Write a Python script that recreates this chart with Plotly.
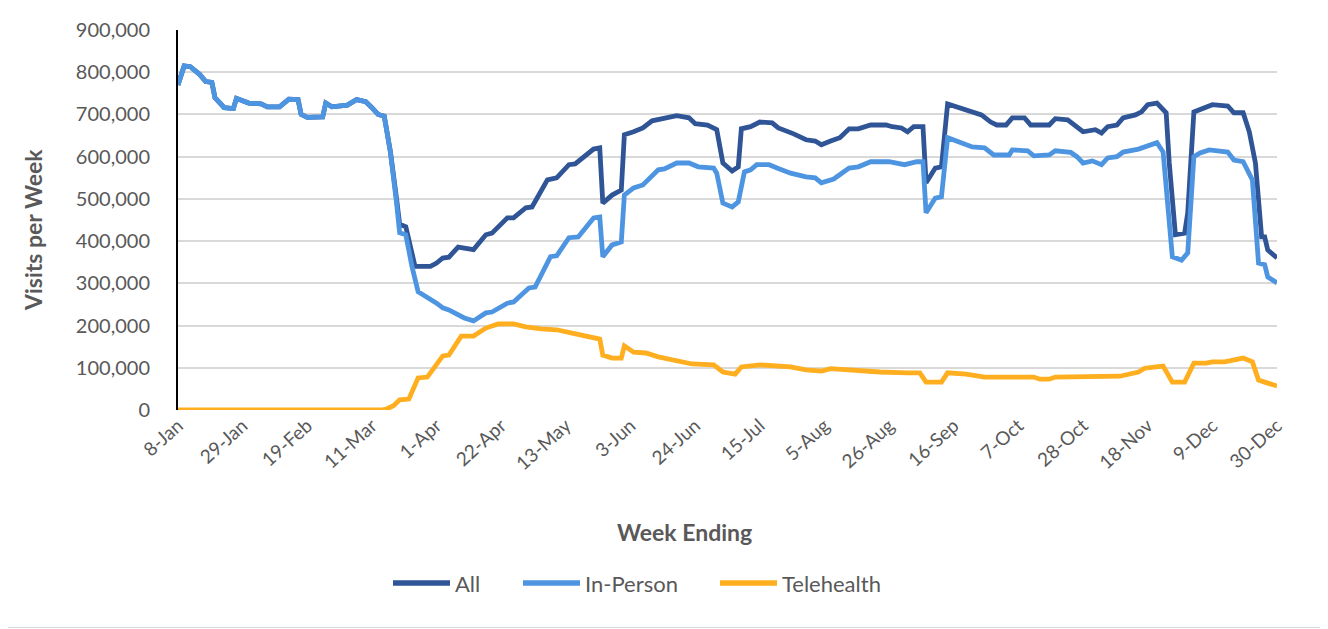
import pandas as pd
import plotly.graph_objects as go

# ---------------- data (day offset from 8-Jan-2020, visits per week) ----------------
all_days = [0, 2, 4, 7, 9, 11, 12, 15, 18, 19, 23, 27, 29, 33, 36, 39, 40, 42, 47, 48, 50, 55, 58, 61, 63, 65, 67,
            69, 71, 72, 74, 77, 82, 84, 86, 88, 91, 94, 96, 100, 102, 107, 109, 113, 115, 120, 123, 127, 129, 135, 137,
            138, 141, 144, 145, 148, 151, 154, 159, 162, 166, 168, 172, 175, 177, 180, 182, 183, 186, 189, 193, 195,
            200, 204, 207, 209, 212, 215, 218, 221, 225, 230, 232, 235, 237, 239, 242, 243, 246, 248, 250, 254, 258,
            261, 264, 266, 269, 271, 275, 277, 283, 285, 289, 292, 294, 298, 300, 302, 305, 307, 311, 313, 315, 318,
            321, 322, 324, 327, 328, 330, 333, 336, 341, 343, 346, 348, 350, 352, 353, 354, 357]
all_vals = [770000, 815000, 813000, 795000, 778000, 776000, 740000, 716000, 714000, 738000, 727000, 725000, 718000,
            718000, 736000, 735000, 700000, 693000, 694000, 727000, 718000, 722000, 735000, 730000, 716000, 700000,
            696000, 612000, 500000, 440000, 434000, 340000, 340000, 348000, 360000, 362000, 386000, 381000, 380000,
            415000, 419000, 455000, 455000, 479000, 481000, 545000, 550000, 581000, 583000, 618000, 621000, 490000,
            509000, 521000, 652000, 659000, 668000, 685000, 692000, 697000, 692000, 678000, 675000, 664000, 585000,
            566000, 576000, 666000, 671000, 682000, 680000, 668000, 654000, 640000, 637000, 628000, 637000, 645000,
            666000, 666000, 675000, 675000, 671000, 668000, 659000, 671000, 671000, 538000, 573000, 576000, 725000,
            716000, 706000, 699000, 682000, 675000, 675000, 692000, 692000, 675000, 675000, 690000, 687000, 671000,
            659000, 664000, 656000, 671000, 675000, 692000, 699000, 706000, 723000, 727000, 704000, 585000, 415000,
            419000, 467000, 706000, 716000, 723000, 720000, 704000, 704000, 659000, 585000, 410000, 410000, 379000,
            360000]

inperson_days = [0, 2, 4, 7, 9, 11, 12, 15, 18, 19, 23, 27, 29, 33, 36, 39, 40, 42, 47, 48, 50, 55, 58, 61, 63, 65,
                 67, 69, 71, 72, 74, 76, 78, 81, 84, 86, 88, 93, 96, 100, 102, 107, 109, 114, 116, 121, 123, 127, 130,
                 135, 137, 138, 141, 144, 145, 148, 151, 156, 158, 162, 166, 169, 174, 175, 177, 180, 182, 184, 186,
                 188, 192, 195, 199, 204, 207, 209, 213, 218, 221, 225, 231, 236, 240, 242, 243, 246, 248, 250, 254,
                 258, 262, 265, 270, 271, 276, 278, 283, 285, 290, 292, 294, 297, 300, 302, 305, 307, 312, 314, 318,
                 320, 321, 323, 326, 328, 330, 332, 335, 341, 343, 346, 349, 350, 351, 353, 354, 357]
inperson_vals = [770000, 815000, 813000, 795000, 778000, 776000, 740000, 716000, 714000, 738000, 727000, 725000,
                 718000, 718000, 736000, 735000, 700000, 693000, 694000, 727000, 718000, 722000, 735000, 730000,
                 716000, 700000, 696000, 610000, 490000, 420000, 415000, 340000, 280000, 268000, 253000, 242000,
                 237000, 218000, 211000, 230000, 232000, 253000, 256000, 289000, 291000, 363000, 365000, 408000,
                 410000, 455000, 457000, 363000, 391000, 398000, 509000, 526000, 533000, 569000, 571000, 585000,
                 585000, 576000, 573000, 561000, 490000, 481000, 493000, 564000, 569000, 581000, 581000, 572000,
                 561000, 552000, 550000, 538000, 547000, 573000, 576000, 588000, 588000, 581000, 588000, 588000,
                 467000, 502000, 505000, 645000, 633000, 623000, 621000, 604000, 604000, 616000, 614000, 602000,
                 604000, 614000, 610000, 600000, 585000, 590000, 581000, 597000, 600000, 611000, 618000, 623000,
                 633000, 611000, 521000, 363000, 355000, 372000, 600000, 609000, 616000, 611000, 592000, 588000,
                 545000, 427000, 348000, 344000, 315000, 301000]

telehealth_days = [0, 66, 68, 70, 72, 75, 78, 81, 86, 88, 92, 96, 100, 104, 109, 113, 118, 123, 128, 133, 137, 138,
                   141, 144, 145, 148, 152, 156, 162, 167, 174, 177, 181, 183, 189, 194, 199, 204, 209, 212, 217, 228,
                   237, 241, 243, 248, 250, 256, 262, 278, 280, 283, 285, 303, 306, 312, 314, 320, 323, 327, 330, 334,
                   336, 340, 346, 349, 351, 353, 357]
telehealth_vals = [0, 0, 3000, 10000, 24000, 26000, 76000, 78000, 128000, 130000, 175000, 175000, 194000, 204000,
                   204000, 197000, 192000, 190000, 182000, 175000, 168000, 130000, 123000, 123000, 152000, 137000,
                   135000, 126000, 116000, 109000, 107000, 90000, 85000, 102000, 107000, 104000, 102000, 95000, 92000,
                   98000, 95000, 90000, 88000, 88000, 66000, 66000, 88000, 85000, 78000, 78000, 73000, 73000, 78000,
                   78000, 80000, 90000, 99000, 104000, 66000, 66000, 111000, 111000, 114000, 114000, 123000, 114000,
                   71000, 66000, 57000]

series_names = ["All", "In-Person", "Telehealth"]
series_colors = ["#2F5597", "#4E95E1", "#FFAE1F"]

tick_dates = ["2020-01-08", "2020-01-29", "2020-02-19", "2020-03-11", "2020-04-01", "2020-04-22", "2020-05-13",
              "2020-06-03", "2020-06-24", "2020-07-15", "2020-08-05", "2020-08-26", "2020-09-16", "2020-10-07",
              "2020-10-28", "2020-11-18", "2020-12-09", "2020-12-30"]
tick_labels = ["8-Jan", "29-Jan", "19-Feb", "11-Mar", "1-Apr", "22-Apr", "13-May", "3-Jun", "24-Jun", "15-Jul",
               "5-Aug", "26-Aug", "16-Sep", "7-Oct", "28-Oct", "18-Nov", "9-Dec", "30-Dec"]
y_ticks = [0, 100000, 200000, 300000, 400000, 500000, 600000, 700000, 800000, 900000]

start = pd.Timestamp("2020-01-08")


def to_dates(days):
    return [start + pd.Timedelta(days=d) for d in days]


FONT = "Lato"
GREY = "#595959"

OFF = 8                      # page body margin added by the HTML page
W, H = 1328 - OFF, 629 - OFF
L, T = 178 - OFF, 30 - OFF
R = W - (1277 - OFF)
B = H - (410 - OFF)
pw, ph = W - L - R, H - T - B


def px_x(x):  # page pixel -> paper x
    return (x - OFF - L) / pw


def px_y(y):  # page pixel -> paper y
    return (T + ph - (y - OFF)) / ph


fig = go.Figure()
for name, days, vals, col in zip(series_names,
                                 [all_days, inperson_days, telehealth_days],
                                 [all_vals, inperson_vals, telehealth_vals],
                                 series_colors):
    fig.add_trace(go.Scatter(x=to_dates(days), y=vals, name=name, mode="lines",
                             line=dict(color=col, width=4.8), showlegend=False))

# chart-area border (right and bottom edges visible inside the page)
shapes = [
    dict(type="line", xref="paper", yref="paper", x0=px_x(1326.5), x1=px_x(1326.5), y0=px_y(627.5), y1=px_y(8),
         line=dict(color="#D9D9D9", width=1), layer="below"),
    dict(type="line", xref="paper", yref="paper", x0=px_x(8), x1=px_x(1326.5), y0=px_y(627.5), y1=px_y(627.5),
         line=dict(color="#D9D9D9", width=1), layer="below"),
]

# legend drawn in Excel style (long line keys)
legend_line_x = [(393, 450), (523, 580), (720, 777)]
legend_y = 583
annotations = []
for name, col, (x0, x1) in zip(series_names, series_colors, legend_line_x):
    shapes.append(dict(type="line", xref="paper", yref="paper", x0=px_x(x0), x1=px_x(x1),
                       y0=px_y(legend_y), y1=px_y(legend_y), line=dict(color=col, width=5.5)))
    annotations.append(dict(text=name, xref="paper", yref="paper", x=px_x(x1 + 3), y=px_y(legend_y),
                            xanchor="left", yanchor="middle", showarrow=False,
                            font=dict(size=22, color=GREY, family=FONT)))

annotations.append(dict(text="<b>Week Ending</b>", xref="paper", yref="paper",
                        x=px_x(684), y=px_y(532), xanchor="center", yanchor="middle",
                        showarrow=False, font=dict(size=23, color=GREY, family=FONT)))
annotations.append(dict(text="<b>Visits per Week</b>", xref="paper", yref="paper", textangle=-90,
                        x=px_x(33), y=px_y(230), xanchor="center", yanchor="middle",
                        showarrow=False, font=dict(size=23, color=GREY, family=FONT)))

fig.update_layout(
    width=W, height=H,
    margin=dict(l=L, r=R, t=T, b=B),
    paper_bgcolor="white", plot_bgcolor="white",
    font=dict(family=FONT, color=GREY),
    showlegend=False,
    xaxis=dict(type="date", range=[start, start + pd.Timedelta(days=357)],
               tickmode="array", tickvals=tick_dates, ticktext=tick_labels, tickangle=-42,
               tickfont=dict(size=19, color=GREY), showgrid=False, zeroline=False, showline=False,
               ticks="", automargin=False),
    yaxis=dict(range=[0, 900000], tickmode="array", tickvals=y_ticks, tickformat=",d",
               tickfont=dict(size=20, color=GREY), showgrid=True, gridcolor="#D9D9D9", gridwidth=2,
               zeroline=False, showline=True, linecolor="black", linewidth=2,
               ticklabelstandoff=22, automargin=False),
    shapes=shapes,
    annotations=annotations,
)

fig.write_html("out.html")
